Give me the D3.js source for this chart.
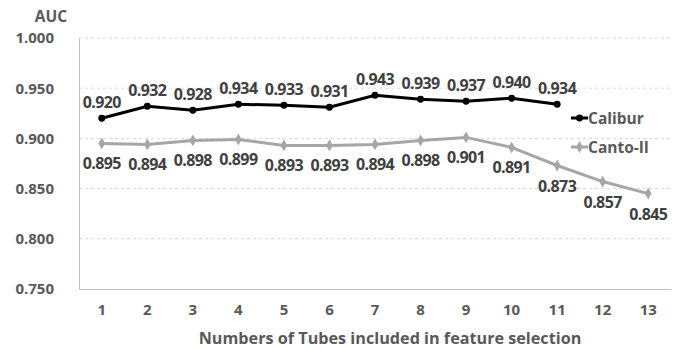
<!DOCTYPE html>
<html lang="en">
<head>
  <meta charset="UTF-8">
  <title>AUC by number of tubes</title>
  <script src="https://d3js.org/d3.v7.min.js"></script>
  <style>
    body { margin: 0; padding: 0; background: #fff; font-family: "Open Sans", sans-serif; }
    svg { display: block; }
    .tick text { font-family: "Open Sans", sans-serif; font-weight: bold; fill: #595959; font-size: 15px; }
    .lbl { font-weight: bold; fill: #404040; font-size: 16px; letter-spacing: -0.6px; }
  </style>
</head>
<body>
<svg id="chart" width="681" height="350"></svg>
<script>
  const tubes = [1, 2, 3, 4, 5, 6, 7, 8, 9, 10, 11, 12, 13];
  const calibur = [0.920, 0.932, 0.928, 0.934, 0.933, 0.931, 0.943, 0.939, 0.937, 0.940, 0.934];
  const canto = [0.895, 0.894, 0.898, 0.899, 0.893, 0.893, 0.894, 0.898, 0.901, 0.891, 0.873, 0.857, 0.845];
  const yTicks = [0.75, 0.80, 0.85, 0.90, 0.95, 1.00];

  const svg = d3.select("#chart");
  const margin = { left: 79, right: 10, top: 38, bottom: 61 };
  const width = 681, height = 350;

  const x = d3.scaleBand().domain(tubes).range([margin.left, width - margin.right]);
  const y = d3.scaleLinear().domain([0.75, 1.0]).range([height - margin.bottom, margin.top]);
  const cx = d => x(d) + x.bandwidth() / 2;

  // gridlines
  svg.append("g")
    .selectAll("line")
    .data(yTicks.slice(1))
    .enter().append("line")
      .attr("x1", margin.left).attr("x2", width - margin.right)
      .attr("y1", d => y(d)).attr("y2", d => y(d))
      .attr("stroke", "#d9d9d9")
      .attr("stroke-dasharray", "3,3");

  // y axis
  const yAxis = svg.append("g")
    .attr("transform", `translate(${margin.left},0)`)
    .call(d3.axisLeft(y).tickValues(yTicks).tickFormat(d3.format(".3f")).tickSize(0).tickPadding(25));
  yAxis.select(".domain").attr("stroke", "#bfbfbf");

  // x axis
  const xAxis = svg.append("g")
    .attr("transform", `translate(0,${height - margin.bottom})`)
    .call(d3.axisBottom(x).tickSize(0).tickPadding(15));
  xAxis.select(".domain").attr("stroke", "#bfbfbf");

  svg.append("text")
    .attr("x", 51).attr("y", 22)
    .attr("text-anchor", "middle")
    .attr("font-weight", "bold").attr("font-size", 15.5).attr("fill", "#595959")
    .text("AUC");

  svg.append("text")
    .attr("x", 390).attr("y", 344)
    .attr("text-anchor", "middle")
    .attr("font-weight", "bold").attr("font-size", 16.2).attr("fill", "#595959")
    .text("Numbers of Tubes included in feature selection");

  const line = d3.line().x((d, i) => cx(tubes[i])).y(d => y(d));

  const series = [
    { name: "Calibur", values: calibur, color: "#000000", symbol: d3.symbolCircle, size: 38, dy: -10, legendY: 118 },
    { name: "Canto-II", values: canto, color: "#a6a6a6", symbol: d3.symbolDiamond, size: 40, dy: 26, legendY: 147 }
  ];

  series.forEach(s => {
    svg.append("path")
      .datum(s.values)
      .attr("fill", "none")
      .attr("stroke", s.color)
      .attr("stroke-width", 3)
      .attr("d", line);

    svg.append("g")
      .selectAll("path")
      .data(s.values)
      .enter().append("path")
        .attr("d", d3.symbol(s.symbol, s.size))
        .attr("transform", (d, i) => `translate(${cx(tubes[i])},${y(d)})`)
        .attr("fill", s.color);

    svg.append("g")
      .selectAll("text")
      .data(s.values)
      .enter().append("text")
        .attr("class", "lbl")
        .attr("x", (d, i) => cx(tubes[i]))
        .attr("y", (d, i) => y(d) + s.dy)
        .attr("text-anchor", "middle")
        .text(d => d3.format(".3f")(d));

    // legend
    const lg = svg.append("g").attr("transform", `translate(571,${s.legendY})`);
    lg.append("line").attr("x1", 0).attr("x2", 17).attr("stroke", s.color).attr("stroke-width", 3);
    lg.append("path").attr("d", d3.symbol(s.symbol, s.size)).attr("transform", "translate(8.5,0)").attr("fill", s.color);
    lg.append("text")
      .attr("x", 17).attr("y", 6)
      .attr("font-weight", "bold").attr("font-size", 15.5).attr("fill", "#595959")
      .text(s.name);
  });
</script>
</body>
</html>
